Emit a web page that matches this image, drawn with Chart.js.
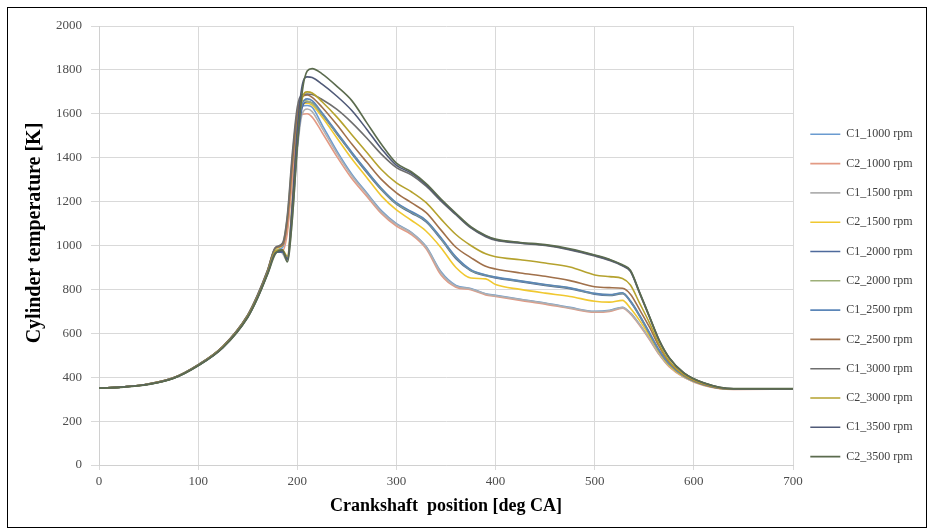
<!DOCTYPE html>
<html>
<head>
<meta charset="utf-8">
<script src="https://cdn.jsdelivr.net/npm/chart.js@4.4.1/dist/chart.umd.min.js"></script>
<style>
  html, body { margin: 0; padding: 0; background: #ffffff; }
  #wrap { width: 931px; height: 531px; }
</style>
</head>
<body>
<div id="wrap"><canvas id="c" width="931" height="531" style="width:931px;height:531px"></canvas></div>
<script>
// Crank angle positions [deg CA]
const crankAngle = [0,25,50,75,100,125,150,160,170,178,185,190,195,200,205,210,215,225,240,255,270,285,300,315,330,345,360,375,390,400,425,450,475,500,515,528,536,545,555,565,575,590,610,640,700];

const seriesNames = ['C1_1000 rpm','C2_1000 rpm','C1_1500 rpm','C2_1500 rpm','C1_2000 rpm','C2_2000 rpm','C1_2500 rpm','C2_2500 rpm','C1_3000 rpm','C2_3000 rpm','C1_3500 rpm','C2_3500 rpm'];

const C1_1000 = [350,356,369,397,456,540,680,770,880,978, 990,1080,1330,1560,1635,1638,1630, 1550,1430,1325,1240,1158,1100,1060,995,880,818,804,780,773,755,738,718,700,705,719,693,643,578,507,452,401,364,345,347];
const C2_1000 = [350,356,368,396,455,538,677,766,876,972, 975,1060,1300,1520,1598,1600,1585, 1515,1405,1305,1225,1145,1088,1050,985,865,810,798,775,768,750,733,713,696,700,714,688,638,573,503,448,399,362,344,346];
const C1_1500 = [350,356,369,396,455,539,679,769,880,982, 965,928,1120,1430,1600,1622,1610, 1535,1420,1318,1235,1152,1096,1058,992,875,815,802,779,771,754,737,716,699,703,717,691,641,576,506,451,401,364,345,347];
const C2_1500 = [350,356,369,397,456,540,681,772,884,985, 1000,1120,1380,1590,1645,1648,1640, 1585,1490,1395,1310,1225,1162,1115,1065,990,900,852,848,822,800,783,768,746,742,750,714,660,590,515,455,403,365,345,346];
const C1_2000 = [350,356,368,395,454,537,676,765,874,970, 970,935,1150,1450,1630,1655,1650, 1598,1508,1418,1333,1253,1188,1148,1108,1028,940,885,862,852,835,818,803,778,772,780,744,680,600,520,460,405,366,345,346];
const C2_2000 = [350,356,369,397,456,540,682,773,885,988, 1005,1130,1400,1610,1660,1658,1648, 1600,1512,1422,1338,1257,1192,1152,1112,1032,945,888,865,855,838,821,806,781,775,783,747,683,603,522,462,406,367,346,347];
const C1_2500 = [350,356,368,395,453,536,675,764,873,968, 975,940,1170,1480,1645,1668,1660, 1605,1515,1425,1340,1260,1195,1155,1114,1035,948,890,866,856,839,822,807,782,776,785,748,685,605,524,463,407,367,346,347];
const C2_2500 = [350,356,369,397,456,541,683,774,886,990, 1000,1110,1370,1600,1678,1686,1675, 1630,1550,1462,1380,1300,1240,1195,1150,1070,992,945,905,893,875,860,840,812,808,805,778,710,630,540,470,410,368,346,346];
const C1_3000 = [350,356,369,397,457,541,684,776,888,992, 1010,1140,1420,1630,1688,1690,1688, 1665,1620,1560,1490,1415,1355,1322,1270,1202,1140,1080,1040,1024,1010,1000,980,952,932,907,882,785,676,566,488,418,373,347,347];
const C2_3000 = [350,356,368,395,454,537,677,766,876,975, 980,950,1200,1500,1670,1700,1695, 1655,1585,1505,1425,1345,1285,1245,1195,1120,1050,1000,962,949,935,920,902,866,858,850,820,740,650,550,475,412,370,346,346];
const C1_3500 = [350,356,368,395,453,535,673,762,871,966, 975,940,1190,1530,1730,1768,1765, 1735,1680,1615,1530,1440,1365,1330,1276,1207,1143,1083,1043,1026,1012,1002,982,955,934,909,884,788,678,568,489,419,374,347,347];
const C2_3500 = [350,355,367,394,452,534,672,760,868,962, 980,925,1120,1450,1700,1795,1806, 1782,1725,1660,1560,1460,1375,1336,1282,1212,1147,1086,1046,1029,1014,1004,985,957,937,912,887,790,680,570,490,420,375,348,348];

const seriesValues = [C1_1000,C2_1000,C1_1500,C2_1500,C1_2000,C2_2000,C1_2500,C2_2500,C1_3000,C2_3000,C1_3500,C2_3500];

const seriesColors = ['#6A9BD0','#E39A84','#B0B0B0','#F0C830','#4E6A9C','#9DAF78','#5B86B8','#A0704A','#6E6E6E','#B5A22E','#505A78','#5B6B4E'];

const xTitle = 'Crankshaft  position [deg CA]';
const yTitle = '     Cylinder temperature [K]';

// layout targets
const W = 931, H = 531;
const areaLeft = 99, areaRight = 793, areaTop = 26, areaBottom = 465;
const padBottom = 4;
const legendFontSize = 12, legendPad = 17.3, legendBox = 30;

const mctx = document.createElement('canvas').getContext('2d');
mctx.font = legendFontSize + 'px "Liberation Serif"';
let maxText = 0;
seriesNames.forEach(n => { maxText = Math.max(maxText, mctx.measureText(n).width); });
const legendWidth = legendPad + legendBox + legendFontSize / 2 + maxText + 10;
const padRight = Math.max(0, W - areaRight - legendWidth);

const datasets = seriesNames.map((name, i) => ({
  label: name,
  data: crankAngle.map((x, j) => ({ x: x, y: seriesValues[i][j] })),
  borderColor: seriesColors[i],
  backgroundColor: seriesColors[i],
  borderWidth: 1.6,
  pointRadius: 0,
  fill: false,
  cubicInterpolationMode: 'monotone',
  order: seriesNames.length - 1 - i
}));

const framePlugin = {
  id: 'frame',
  beforeDraw(chart) {
    const c = chart.ctx;
    c.save();
    c.fillStyle = '#ffffff';
    c.fillRect(0, 0, chart.width, chart.height);
    c.restore();
  },
  afterDraw(chart) {
    const c = chart.ctx;
    c.save();
    c.strokeStyle = '#000000';
    c.lineWidth = 1;
    c.strokeRect(7.5, 7.5, 919, 520);
    c.restore();
  }
};

const gridColor = '#D9D9D9';
const tickFont = { family: 'Liberation Serif', size: 13 };

new Chart(document.getElementById('c'), {
  type: 'line',
  data: { datasets: datasets },
  plugins: [framePlugin],
  options: {
    responsive: false,
    animation: false,
    devicePixelRatio: 1,
    layout: { padding: { top: areaTop, right: padRight, bottom: padBottom, left: 0 } },
    plugins: {
      tooltip: { enabled: false },
      legend: {
        position: 'right',
        align: 'start',
        title: { display: true, text: '', font: { size: 10, lineHeight: 1 }, padding: { top: 75, bottom: 0 } },
        labels: {
          font: { family: 'Liberation Serif', size: legendFontSize },
          color: '#404040',
          usePointStyle: true,
          pointStyle: 'line',
          pointStyleWidth: legendBox,
          padding: legendPad,
          sort: (a, b) => a.datasetIndex - b.datasetIndex
        }
      }
    },
    scales: {
      x: {
        type: 'linear',
        min: 0, max: 700,
        ticks: { stepSize: 100, font: tickFont, color: '#4D4D4D', padding: 4, maxRotation: 0, format: { useGrouping: false } },
        grid: { color: gridColor, tickLength: 5, tickColor: gridColor },
        border: { color: '#D0D0D0' },
        title: { display: true, text: xTitle, font: { family: 'Liberation Serif', size: 18, weight: 'bold' }, color: '#000000', padding: { top: 0, bottom: 10 } },
        afterFit(scale) { scale.height = H - padBottom - areaBottom; }
      },
      y: {
        type: 'linear',
        min: 0, max: 2000,
        ticks: { stepSize: 200, font: tickFont, color: '#4D4D4D', padding: 9, format: { useGrouping: false } },
        grid: { color: gridColor, tickLength: 8, tickColor: gridColor },
        border: { color: '#D0D0D0' },
        title: { display: true, text: yTitle, font: { family: 'Liberation Serif', size: 20, weight: 'bold' }, color: '#000000', padding: { top: 23, bottom: 0 } },
        afterFit(scale) { scale.width = areaLeft; }
      }
    }
  }
});
</script>
</body>
</html>
